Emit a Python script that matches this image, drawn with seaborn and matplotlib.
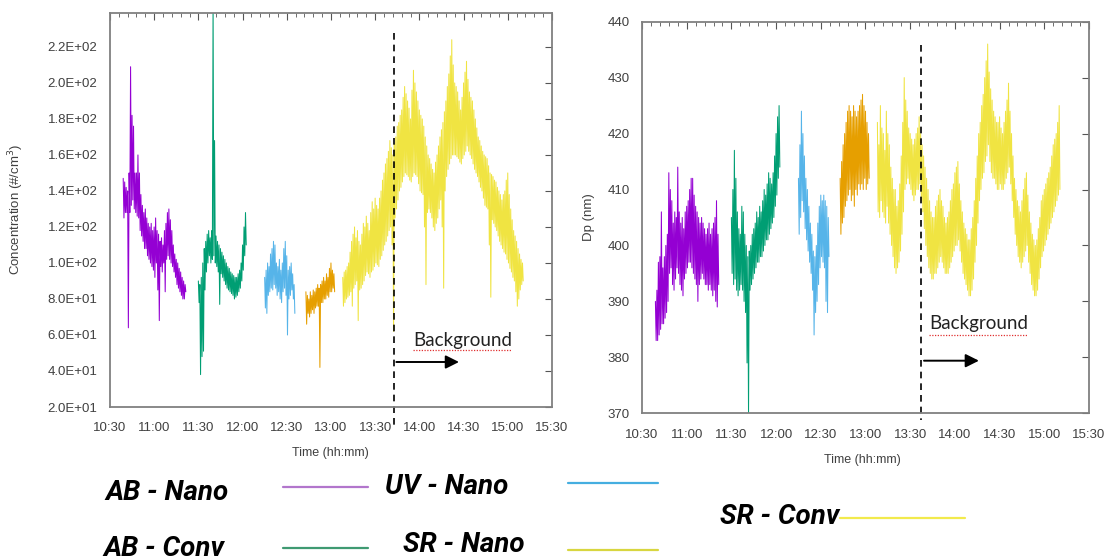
import numpy as np
import pandas as pd
import matplotlib
matplotlib.use('Agg')
import matplotlib.pyplot as plt
import matplotlib.transforms as mtransforms
from matplotlib.lines import Line2D
from matplotlib.ticker import FuncFormatter, MultipleLocator
import seaborn as sns

# ================= DATOS =================
# tiempo en minutos desde medianoche; cada serie = banda ruidosa (máx / mín por minuto)
series_names = ['AB - Nano', 'AB - Conv', 'UV - Nano', 'SR - Nano', 'SR - Conv']
series_colors = ['#9400D3', '#009E73', '#56B4E9', '#E69F00', '#F0E442']
series_start = [639, 690, 735, 763, 788]

# --- concentración (#/cm3) ---
ab_nano_conc_hi = [147, 145, 142, 140, 150, 209, 182, 176, 150, 150, 160, 150, 138, 132, 128, 130, 125, 122,
                   120, 122, 118, 120, 125, 118, 116, 112, 114, 110, 118, 122, 128, 130, 124, 118, 110, 105,
                   102, 100, 97, 95, 92, 90, 88]
ab_nano_conc_lo = [125, 128, 128, 64, 128, 132, 135, 130, 128, 126, 125, 118, 115, 112, 108, 108, 104, 102,
                   100, 98, 96, 92, 100, 85, 68, 98, 95, 100, 84, 102, 104, 102, 100, 98, 95, 92,
                   88, 86, 84, 82, 80, 80, 84]
ab_conv_conc_hi = [90, 88, 92, 100, 108, 112, 116, 118, 114, 118, 245, 168, 115, 112, 110, 108, 106, 104,
                   102, 100, 98, 97, 95, 94, 93, 92, 92, 94, 96, 100, 110, 120, 128]
ab_conv_conc_lo = [78, 38, 48, 51, 85, 95, 100, 104, 100, 102, 104, 100, 98, 95, 77, 94, 92, 90,
                   88, 86, 85, 84, 83, 82, 80, 81, 82, 84, 86, 90, 96, 104, 110]
uv_nano_conc_hi = [92, 96, 100, 98, 105, 108, 112, 110, 100, 98, 102, 96, 100, 108, 112, 104, 96, 98,
                   100, 94, 88]
uv_nano_conc_lo = [75, 72, 82, 84, 86, 85, 88, 86, 82, 84, 80, 78, 84, 86, 82, 60, 80, 82,
                   85, 80, 72]
sr_nano_conc_hi = [84, 82, 80, 84, 82, 85, 84, 86, 88, 86, 88, 90, 92, 90, 94, 92, 97, 100, 96, 94]
sr_nano_conc_lo = [66, 72, 70, 72, 74, 72, 75, 76, 76, 42, 78, 78, 80, 80, 82, 81, 84, 84, 86, 84]
sr_conv_conc_hi = [92, 95, 96, 98, 100, 106, 112, 116, 120, 114, 118, 112, 110, 116, 122, 120, 126, 122,
                   118, 128, 134, 130, 136, 132, 130, 136, 140, 146, 150, 155, 158, 162, 168, 164, 160, 166,
                   170, 176, 178, 182, 185, 192, 198, 194, 190, 186, 180, 196, 207, 200, 195, 190, 185, 182,
                   180, 176, 170, 165, 160, 158, 155, 152, 150, 156, 160, 165, 170, 174, 178, 184, 190, 198,
                   205, 215, 224, 210, 200, 198, 195, 190, 185, 192, 200, 206, 212, 202, 195, 192, 190, 185,
                   180, 175, 170, 168, 165, 162, 160, 159, 158, 154, 150, 149, 148, 146, 145, 142, 140, 138,
                   135, 138, 140, 146, 150, 138, 130, 124, 118, 115, 112, 108, 105, 102, 100]
sr_conv_conc_lo = [76, 78, 80, 81, 82, 84, 76, 86, 88, 90, 68, 85, 86, 88, 90, 93, 95, 94,
                   92, 95, 96, 98, 100, 99, 98, 102, 104, 107, 110, 112, 115, 118, 120, 110, 62, 125,
                   130, 135, 140, 142, 145, 148, 150, 149, 148, 146, 145, 148, 150, 149, 148, 144, 140, 139,
                   138, 120, 88, 128, 130, 128, 125, 120, 118, 122, 125, 130, 135, 120, 86, 140, 148, 152,
                   155, 158, 160, 160, 160, 159, 158, 156, 155, 158, 160, 162, 165, 162, 160, 158, 155, 152,
                   150, 148, 145, 142, 140, 136, 132, 131, 130, 110, 81, 124, 122, 120, 118, 115, 112, 110,
                   108, 106, 105, 102, 100, 97, 95, 92, 90, 84, 76, 80, 85, 88, 90]

# --- diámetro Dp (nm) ---
ab_nano_dp_hi = [390, 392, 397, 398, 406, 396, 398, 400, 402, 413, 410, 408, 404, 406, 405, 414, 406, 404,
                 405, 403, 406, 407, 408, 410, 412, 412, 409, 407, 406, 405, 404, 405, 404, 403, 402, 403,
                 404, 402, 403, 404, 405, 408, 402]
ab_nano_dp_lo = [383, 383, 384, 385, 386, 386, 387, 388, 390, 395, 396, 393, 392, 394, 396, 395, 393, 392,
                 391, 394, 395, 396, 397, 397, 396, 395, 394, 393, 390, 393, 394, 395, 394, 393, 393, 392,
                 393, 392, 391, 392, 390, 389, 393]
ab_conv_dp_hi = [405, 410, 417, 412, 406, 403, 402, 407, 406, 402, 400, 398, 399, 400, 402, 403, 404, 406,
                 405, 407, 406, 408, 410, 409, 411, 413, 412, 411, 413, 416, 420, 423, 425]
ab_conv_dp_lo = [395, 393, 394, 392, 391, 392, 393, 392, 390, 388, 379, 370, 392, 393, 394, 395, 396, 397,
                 397, 398, 398, 399, 400, 401, 401, 402, 403, 404, 405, 407, 409, 412, 414]
uv_nano_dp_hi = [412, 418, 424, 420, 416, 412, 410, 407, 404, 402, 399, 398, 400, 404, 407, 409, 408, 409,
                 408, 407, 405]
uv_nano_dp_lo = [402, 405, 408, 406, 403, 401, 399, 397, 395, 392, 384, 388, 390, 393, 396, 398, 397, 396,
                 390, 388, 398]
sr_nano_dp_hi = [412, 415, 418, 420, 422, 424, 425, 424, 423, 425, 424, 423, 424, 425, 426, 427, 425, 424,
                 422, 420]
sr_nano_dp_lo = [402, 404, 405, 407, 408, 409, 410, 408, 409, 407, 410, 409, 411, 410, 411, 410, 412, 410,
                 411, 412]
sr_conv_dp_hi = [422, 418, 425, 421, 420, 417, 424, 420, 418, 414, 412, 410, 410, 407, 408, 411, 416, 422,
                 430, 426, 424, 421, 420, 419, 418, 419, 420, 421, 423, 420, 418, 416, 414, 412, 410, 408,
                 406, 405, 405, 407, 408, 409, 410, 408, 407, 405, 404, 405, 406, 408, 410, 411, 413, 414,
                 415, 411, 408, 406, 404, 403, 402, 401, 401, 403, 405, 408, 412, 416, 420, 422, 425, 427,
                 430, 433, 436, 431, 428, 426, 424, 423, 422, 422, 423, 421, 420, 422, 424, 426, 429, 424,
                 420, 416, 412, 410, 408, 407, 406, 408, 410, 412, 413, 409, 406, 404, 402, 401, 400, 401,
                 403, 405, 408, 409, 410, 411, 412, 413, 414, 416, 418, 419, 420, 422, 425]
sr_conv_dp_lo = [406, 405, 408, 406, 405, 404, 407, 404, 402, 400, 398, 396, 395, 396, 397, 399, 402, 406,
                 410, 411, 412, 411, 410, 409, 408, 409, 410, 410, 411, 408, 406, 403, 400, 398, 396, 395,
                 394, 394, 395, 395, 396, 397, 398, 397, 396, 395, 395, 395, 396, 397, 398, 399, 400, 400,
                 401, 399, 397, 395, 394, 393, 392, 391, 391, 392, 394, 397, 400, 404, 408, 410, 412, 413,
                 415, 416, 418, 415, 413, 412, 412, 411, 410, 410, 411, 410, 410, 411, 412, 413, 414, 411,
                 408, 405, 402, 400, 398, 397, 396, 397, 398, 399, 400, 397, 395, 393, 392, 391, 391, 392,
                 394, 396, 398, 399, 400, 401, 402, 403, 404, 405, 406, 407, 408, 409, 410]

conc_hi = [ab_nano_conc_hi, ab_conv_conc_hi, uv_nano_conc_hi, sr_nano_conc_hi, sr_conv_conc_hi]
conc_lo = [ab_nano_conc_lo, ab_conv_conc_lo, uv_nano_conc_lo, sr_nano_conc_lo, sr_conv_conc_lo]
dp_hi = [ab_nano_dp_hi, ab_conv_dp_hi, uv_nano_dp_hi, sr_nano_dp_hi, sr_conv_dp_hi]
dp_lo = [ab_nano_dp_lo, ab_conv_dp_lo, uv_nano_dp_lo, sr_nano_dp_lo, sr_conv_dp_lo]

background_conc = 822.5   # línea "Background" panel izquierdo
background_dp = 817.4     # línea "Background" panel derecho


# ================= ARMADO DEL DATAFRAME =================
def banda(nombre, start, hi, lo, panel):
    t = start + np.arange(len(hi))
    x = np.column_stack([t, t + 0.5]).ravel()
    y = np.column_stack([hi, lo]).ravel()
    return pd.DataFrame({'time': x, 'value': y, 'series': nombre, 'panel': panel})


frames = []
for i, name in enumerate(series_names):
    frames.append(banda(name, series_start[i], conc_hi[i], conc_lo[i], 'conc'))
    frames.append(banda(name, series_start[i], dp_hi[i], dp_lo[i], 'dp'))
df = pd.concat(frames, ignore_index=True)
palette = dict(zip(series_names, series_colors))

# ================= GRÁFICO =================
sns.set_style('white')
plt.rcParams['font.family'] = ['Liberation Sans', 'DejaVu Sans']

fig = plt.figure(figsize=(11.05, 5.6), dpi=100)
ax1 = fig.add_axes([0.0995, 0.2732, 0.4, 0.7041])
ax2 = fig.add_axes([0.581, 0.262, 0.4045, 0.6993])

sns.lineplot(data=df[df['panel'] == 'conc'], x='time', y='value', hue='series', palette=palette,
             estimator=None, sort=False, legend=False, lw=0.75, ax=ax1)
sns.lineplot(data=df[df['panel'] == 'dp'], x='time', y='value', hue='series', palette=palette,
             estimator=None, sort=False, legend=False, lw=0.75, ax=ax2)

hhmm = FuncFormatter(lambda v, pos: f"{int(v) // 60}:{int(v) % 60:02d}")
gris = '#404040'
for ax in (ax1, ax2):
    ax.set_xlim(630, 930)
    ax.xaxis.set_major_locator(MultipleLocator(30))
    ax.xaxis.set_minor_locator(MultipleLocator(6))
    ax.xaxis.set_major_formatter(hhmm)
    ax.tick_params(axis='both', which='both', direction='in', top=True, right=True,
                   labelsize=9.5, labelcolor=gris, color='#555555')
    ax.tick_params(axis='x', which='major', length=5, pad=11)
    ax.tick_params(axis='x', which='minor', length=3)
    ax.tick_params(axis='y', which='major', length=5, pad=9)
    for s in ax.spines.values():
        s.set_color('#808080')
        s.set_linewidth(1.3)
    ax.set_xlabel('Time (hh:mm)', fontsize=9, color=gris)

ax1.set_ylim(20, 239)
ax1.yaxis.set_major_locator(MultipleLocator(20))
ax1.yaxis.set_major_formatter(FuncFormatter(lambda v, pos: f"{v:.1E}"))
ax1.set_ylabel('Concentration (#/cm$^3$)', fontsize=9.5, color=gris)
ax1.yaxis.set_label_coords(-0.19, 0.5)
ax1.xaxis.set_label_coords(0.498, -0.101)

ax2.set_ylim(370, 440)
ax2.yaxis.set_major_locator(MultipleLocator(10))
ax2.set_ylabel('Dp (nm)', fontsize=9.5, color=gris)
ax2.yaxis.set_label_coords(-0.105, 0.5)
ax2.xaxis.set_label_coords(0.492, -0.104)

# línea de fondo + flecha "Background"
for ax, xb, ytop, ybot, ytxt, yarr, yund, xend, xtxt, xund in (
        (ax1, background_conc, 0.948, -0.046, 57, 45, 51.5, 868.8, 835.7, 902.9),
        (ax2, background_dp, 0.94, -0.017, 386, 379.4, 384.0, 858.0, 822.6, 889.0)):
    trans = mtransforms.blended_transform_factory(ax.transData, ax.transAxes)
    ax.plot([xb, xb], [ytop, ybot], transform=trans, color='black', ls=(0, (4, 3)), lw=1.2, clip_on=False)
    ax.annotate('', xy=(xend, yarr), xytext=(xb, yarr),
                arrowprops=dict(arrowstyle='-|>', color='black', lw=1.4, mutation_scale=20))
    ax.text(xtxt, ytxt, 'Background', fontsize=13.5, family=['Lato', 'DejaVu Sans'],
            ha='left', va='center', color='#222222')
    ax.plot([xtxt, xund], [yund, yund], color='#e03030', ls=(0, (1, 1.2)), lw=0.9)

# leyenda manual al pie
leg_font = dict(fontsize=20, fontweight='bold', fontstyle='italic',
                family=['Roboto', 'Liberation Sans', 'DejaVu Sans'], color='black', va='center')
leg_items = [
    ('AB - Nano', 105, 492, 283, 368, 487, '#B276CC'),
    ('UV - Nano', 385, 486, 568, 658, 483, '#45AEE0'),
    ('AB - Conv', 103, 548, 283, 368, 548, '#3F9A72'),
    ('SR - Nano', 403, 545, 568, 658, 550, '#D8D640'),
    ('SR - Conv', 720, 516, 840, 965, 518, '#F2EA4C'),
]
W, H = 1105, 560
for txt, tx, ty, x0, x1, ly, col in leg_items:
    fig.text(tx / W, 1 - ty / H, txt, ha='left', **leg_font)
    fig.add_artist(Line2D([x0 / W, x1 / W], [1 - ly / H, 1 - ly / H], color=col, lw=1.6))

fig.savefig('out.png', dpi=100)
